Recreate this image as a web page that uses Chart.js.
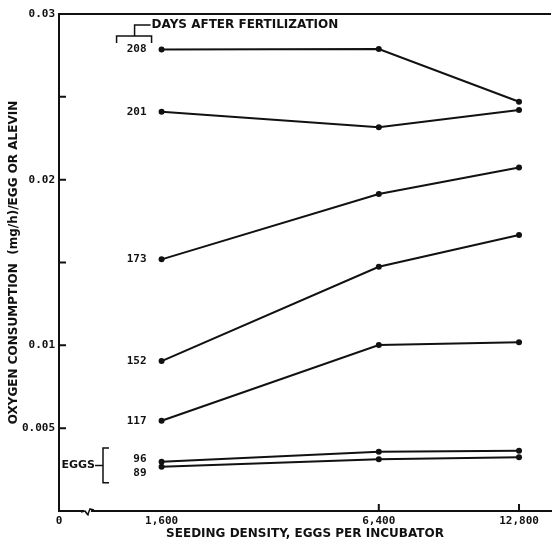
<!DOCTYPE html>
<html>
<head>
<meta charset="utf-8">
<script src="https://cdn.jsdelivr.net/npm/chart.js@4"></script>
<style>html,body{margin:0;padding:0;background:#fff}</style>
</head>
<body>
<canvas id="c" width="555" height="542"></canvas>
<script>
const NUM = "'DejaVu Sans Mono', monospace";
const TXT = "'DejaVu Sans', sans-serif";
const INK = '#111';

// seeding density (eggs per incubator) and tick labels
const DENSITY = [1600, 6400, 12800];
const X_TICKS = [0, 1600, 6400, 12800];
const Y_LABELED = [0.005, 0.01, 0.02, 0.03];

// oxygen consumption (mg/h) per egg or alevin, by days after fertilization
const DAYS = ['208', '201', '173', '152', '117', '96', '89'];
const D208 = [0.02786, 0.02788, 0.02470];
const D201 = [0.02410, 0.02317, 0.02420];
const D173 = [0.01519, 0.01913, 0.02074];
const D152 = [0.00905, 0.01474, 0.01666];
const D117 = [0.00545, 0.01002, 0.01018];
const D96  = [0.00298, 0.00358, 0.00364];
const D89  = [0.00267, 0.00312, 0.00324];
const SERIES = [D208, D201, D173, D152, D117, D96, D89];

// ── broken x axis: piecewise linear between break values ──────────────────
const BREAKS = [[0, 0], [1600, 0.2085], [6400, 0.65], [12800, 0.935], [14000, 1]];
class BrokenLinearScale extends Chart.LinearScale {
  getPixelForValue(v) {
    let i = 1;
    while (i < BREAKS.length - 1 && v > BREAKS[i][0]) i++;
    const [v0, f0] = BREAKS[i - 1], [v1, f1] = BREAKS[i];
    return this.getPixelForDecimal(f0 + (v - v0) / (v1 - v0) * (f1 - f0));
  }
  getValueForPixel(p) {
    const d = this.getDecimalForPixel(p);
    let i = 1;
    while (i < BREAKS.length - 1 && d > BREAKS[i][1]) i++;
    const [v0, f0] = BREAKS[i - 1], [v1, f1] = BREAKS[i];
    return v0 + (d - f0) / (f1 - f0) * (v1 - v0);
  }
}
BrokenLinearScale.id = 'brokenLinear';
BrokenLinearScale.defaults = Chart.LinearScale.defaults;
Chart.register(BrokenLinearScale);

// ── annotations: inward ticks, axis break, day labels, brackets ──────────
const decor = {
  id: 'decor',
  afterDraw(chart) {
    const { ctx, chartArea: a, scales: { x, y } } = chart;
    ctx.save();
    ctx.strokeStyle = INK; ctx.fillStyle = INK; ctx.lineWidth = 2;

    // top frame line
    ctx.beginPath(); ctx.moveTo(a.left - 1, a.top); ctx.lineTo(a.right, a.top); ctx.stroke();

    // inward ticks
    ctx.beginPath();
    for (let k = 1; k <= 6; k++) {
      const py = y.getPixelForValue(k * 0.005);
      ctx.moveTo(a.left, py); ctx.lineTo(a.left + 7, py);
    }
    [6400, 12800].forEach(v => {
      const px = x.getPixelForValue(v);
      ctx.moveTo(px, a.bottom); ctx.lineTo(px, a.bottom - 7);
    });
    ctx.stroke();

    // axis break
    const bx = a.left + 28;
    ctx.fillStyle = '#fff';
    ctx.fillRect(bx - 3, a.bottom - 3, 7, 6);
    ctx.fillStyle = INK;
    ctx.lineWidth = 1.5;
    ctx.beginPath();
    ctx.moveTo(bx - 6, a.bottom + 1);
    ctx.lineTo(bx - 2, a.bottom);
    ctx.quadraticCurveTo(bx + 2, a.bottom + 6, bx + 1, a.bottom + 3);
    ctx.lineTo(bx + 3, a.bottom - 2);
    ctx.lineTo(bx + 7, a.bottom - 1);
    ctx.stroke();

    // day labels at left of each series
    ctx.font = 'bold 11px ' + NUM;
    ctx.textAlign = 'right'; ctx.textBaseline = 'middle';
    const nudge = { '96': -2, '89': 6 };
    DAYS.forEach((d, i) => {
      const p = chart.getDatasetMeta(i).data[0];
      ctx.fillText(d, p.x - 15, p.y + (nudge[d] || 0));
    });

    // EGGS bracket
    const eggTop = y.getPixelForValue(0.0038), eggBot = y.getPixelForValue(0.0017);
    const ex = a.left + 44, em = (eggTop + eggBot) / 2;
    ctx.lineWidth = 1.5;
    ctx.beginPath();
    ctx.moveTo(ex + 6, eggTop); ctx.lineTo(ex, eggTop); ctx.lineTo(ex, eggBot); ctx.lineTo(ex + 6, eggBot);
    ctx.moveTo(ex - 8, em); ctx.lineTo(ex, em);
    ctx.stroke();
    ctx.font = 'bold 11px ' + TXT;
    ctx.textAlign = 'right';
    ctx.fillText('EGGS', ex - 8, em);

    // DAYS AFTER FERTILIZATION header
    const hx = x.getPixelForValue(1600) - 10;
    ctx.font = 'bold 12px ' + TXT;
    ctx.textAlign = 'left';
    ctx.fillText('DAYS AFTER FERTILIZATION', hx, a.top + 11);
    ctx.beginPath();
    ctx.moveTo(hx - 1, a.top + 11); ctx.lineTo(hx - 17, a.top + 11); ctx.lineTo(hx - 17, a.top + 22);
    ctx.moveTo(hx - 35, a.top + 29); ctx.lineTo(hx - 35, a.top + 22); ctx.lineTo(hx, a.top + 22); ctx.lineTo(hx, a.top + 29);
    ctx.stroke();
    ctx.restore();
  }
};

new Chart(document.getElementById('c'), {
  type: 'line',
  data: {
    datasets: SERIES.map((s, i) => ({
      label: DAYS[i],
      data: DENSITY.map((d, j) => ({ x: d, y: s[j] })),
      borderColor: INK, backgroundColor: INK,
      borderWidth: 2, pointRadius: 3, pointBorderWidth: 0,
      tension: 0, clip: false,
    }))
  },
  options: {
    responsive: false, animation: false,
    layout: { padding: { top: 14, right: 2, left: 0, bottom: 0 } },
    plugins: { legend: { display: false }, tooltip: { enabled: false } },
    scales: {
      x: {
        type: 'brokenLinear', min: 0, max: 14000,
        afterBuildTicks: s => { s.ticks = X_TICKS.map(v => ({ value: v })); },
        afterFit: s => { s.height = 31; },
        grid: { drawOnChartArea: false, drawTicks: false },
        border: { display: true, color: INK, width: 2 },
        ticks: {
          color: INK, padding: 4, maxRotation: 0, autoSkip: false,
          font: { family: NUM, size: 11, weight: 'bold' },
          callback: v => v.toLocaleString('en-US')
        },
        title: {
          display: true, text: 'SEEDING DENSITY, EGGS PER INCUBATOR', color: INK,
          font: { family: TXT, size: 12, weight: 'bold' }, padding: { top: 0, bottom: 1 }
        }
      },
      y: {
        min: 0, max: 0.03,
        afterBuildTicks: s => { s.ticks = Y_LABELED.map(v => ({ value: v })); },
        afterFit: s => { s.width = 59; },
        grid: { drawOnChartArea: false, drawTicks: false },
        border: { display: true, color: INK, width: 2 },
        ticks: {
          color: INK, padding: 4,
          font: { family: NUM, size: 11, weight: 'bold' },
          callback: v => String(v)
        },
        title: {
          display: true, text: 'OXYGEN CONSUMPTION  (mg/h)/EGG OR ALEVIN', color: INK,
          font: { family: TXT, size: 12, weight: 'bold' }, padding: { top: 7, bottom: 0 }
        }
      }
    }
  },
  plugins: [decor]
});
</script>
</body>
</html>
